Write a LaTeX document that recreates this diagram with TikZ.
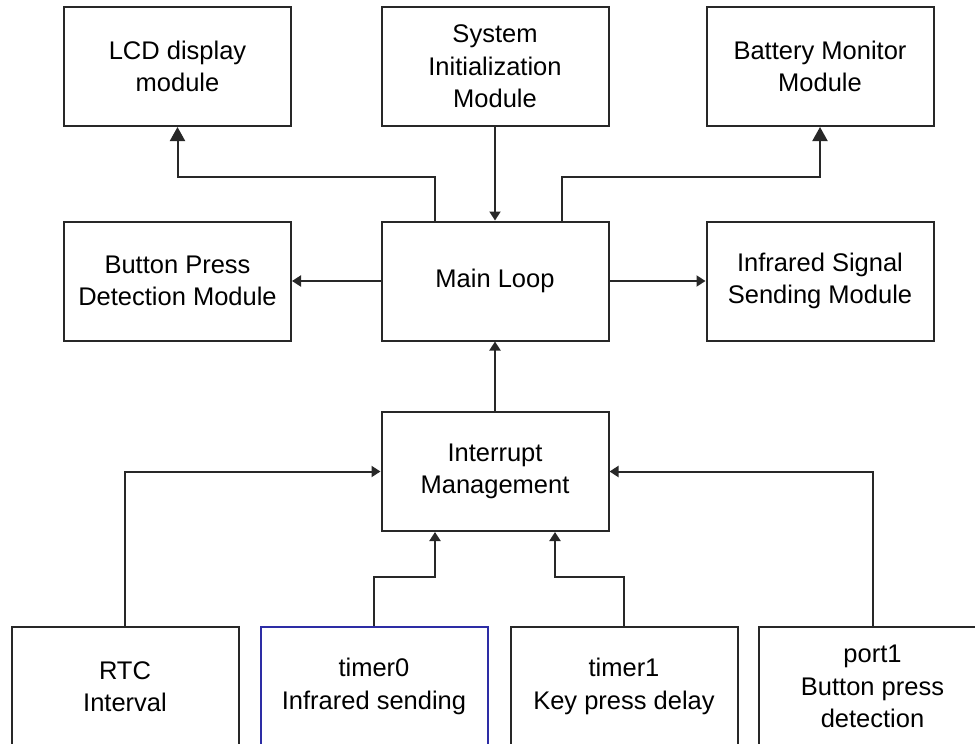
\documentclass[tikz,border=0pt]{standalone}
\usepackage{fontspec}
\setmainfont{Liberation Sans}
\usetikzlibrary{arrows.meta,calc}

\definecolor{linegray}{RGB}{40,40,40}
\definecolor{boxblue}{RGB}{45,45,165}

\begin{document}
\begin{tikzpicture}[
    x = 1pt, y = -1pt, % pixel grid, y going down
    line width = 2pt, % line style
    > = {Triangle[width=11pt,length=9pt]}, % small arrow head
    font = \fontsize{25.5}{32.5}\selectfont
    ]

    \tikzset{box/.style={
    draw = linegray,
    fill = white,
    align = center,
    minimum width = 227pt,
    minimum height = 119pt,
    inner sep = 0pt
    }}
    \tikzset{conn/.style={draw = linegray}}
    \tikzset{bigarrow/.style={-{Triangle[width=15pt,length=14pt]}}}

    \useasboundingbox (0,0) rectangle (975,744);
    \clip (0,0) rectangle (975,744);

    % top row
    \node[box] (lcd) at (177.5,66.5) {LCD display\\module};
    \node[box] (init) at (495,66.5) {System\\Initialization\\Module};
    \node[box] (batt) at (820,66.5) {Battery Monitor\\Module};
    % middle row
    \node[box] (button) at (177.5,281) {Button Press\\Detection Module};
    \node[box] (main) at (495,281) {Main Loop};
    \node[box] (ir) at (820,281) {Infrared Signal\\Sending Module};
    % interrupts
    \node[box] (intr) at (495,471.5) {Interrupt\\Management};
    \node[box] (rtc) at (125,686.5) {RTC\\Interval};
    \node[box, draw=boxblue] (t0) at (374,686.5) {timer0\\Infrared sending};
    \node[box] (t1) at (624,686.5) {timer1\\Key press delay};
    \node[box] (p1) at (872.5,686.5) {port1\\Button press\\detection};

    \draw[conn,bigarrow] ($(main.north)+(-60,0)$) -- ++(0,-44) -| (lcd.south);
    \draw[conn,bigarrow] ($(main.north)+(67,0)$) -- ++(0,-44) -| (batt.south);
    \draw[conn,->] (init.south) -- (main.north);
    \draw[conn,->] (main.west) -- (button.east);
    \draw[conn,->] (main.east) -- (ir.west);
    \draw[conn,->] (intr.north) -- (main.south);

    \draw[conn,->] (rtc.north) |- (intr.west);
    \draw[conn,->] (p1.north) |- (intr.east);
    \draw[conn,->] (t0.north) -- ++(0,-49) -| ($(intr.south)+(-60,0)$);
    \draw[conn,->] (t1.north) -- ++(0,-49) -| ($(intr.south)+(60,0)$);
\end{tikzpicture}
\end{document}
